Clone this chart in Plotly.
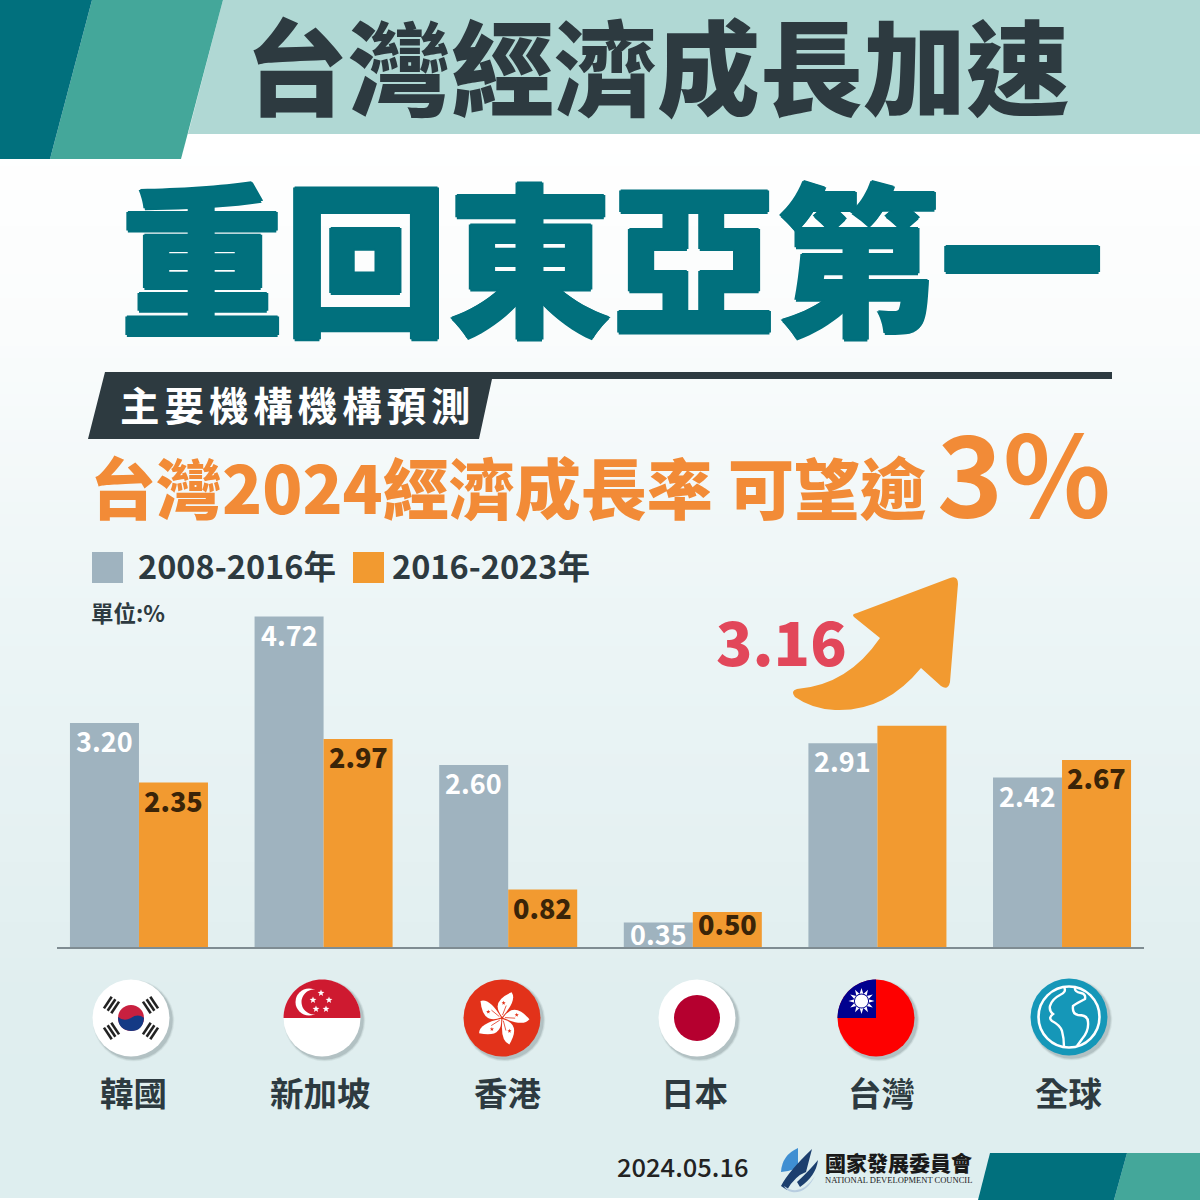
import math
import plotly.graph_objects as go

# ---------- data ----------
categories = ["韓國", "新加坡", "香港", "日本", "台灣", "全球"]
series_2008_2016 = [3.20, 4.72, 2.60, 0.35, 2.91, 2.42]
series_2016_2023 = [2.35, 2.97, 0.82, 0.50, 3.16, 2.67]
labels_2008_2016 = ["3.20", "4.72", "2.60", "0.35", "2.91", "2.42"]
labels_2016_2023 = ["2.35", "2.97", "0.82", "0.50", "", "2.67"]
legend_names = ["2008-2016年", "2016-2023年"]

# ---------- style ----------
FONT = "Noto Sans CJK TC"
GREY = "#9fb3bf"
ORANGE = "#f29a30"
DARK = "#2d3a40"
TEAL = "#01707d"
MID = "#44a79a"
LIGHT = "#b0d8d4"

def X(x): return x / 1200
def Y(y): return 1 - y / 1200

shapes = []
def poly(pts, fill, close=True, line=None, width=0, opacity=1.0, layer="above"):
    d = "M" + " L".join(f"{X(x):.5f},{Y(y):.5f}" for x, y in pts) + (" Z" if close else "")
    s = dict(type="path", path=d, xref="paper", yref="paper", opacity=opacity, layer=layer,
             fillcolor=fill if fill else "rgba(0,0,0,0)",
             line=dict(color=line if line else "rgba(0,0,0,0)", width=width))
    shapes.append(s)

def rect(x0, y0, x1, y1, fill, layer="above"):
    shapes.append(dict(type="rect", xref="paper", yref="paper", x0=X(x0), x1=X(x1), y0=Y(y0), y1=Y(y1),
                       fillcolor=fill, line=dict(width=0), layer=layer))

def circle(cx, cy, r, fill, opacity=1.0, line=None, width=0):
    shapes.append(dict(type="circle", xref="paper", yref="paper", x0=X(cx - r), x1=X(cx + r),
                       y0=Y(cy + r), y1=Y(cy - r), fillcolor=fill, opacity=opacity,
                       line=dict(color=line if line else "rgba(0,0,0,0)", width=width)))

def arc(cx, cy, r, a0, a1, n=40):
    return [(cx + r * math.cos(math.radians(a0 + (a1 - a0) * i / n)),
             cy + r * math.sin(math.radians(a0 + (a1 - a0) * i / n))) for i in range(n + 1)]

def path(cmds, fill, line=None, width=0):
    out = []
    for c, v in cmds:
        pairs = " ".join(f"{X(v[i]):.5f},{Y(v[i+1]):.5f}" for i in range(0, len(v), 2))
        out.append(c + pairs)
    shapes.append(dict(type="path", path=" ".join(out) + (" Z" if fill else ""), xref="paper", yref="paper",
                       fillcolor=fill if fill else "rgba(0,0,0,0)",
                       line=dict(color=line if line else "rgba(0,0,0,0)", width=width)))

def star(cx, cy, R, fill, pts=5, ratio=0.42, rot=-90):
    p = []
    for i in range(pts * 2):
        r = R if i % 2 == 0 else R * ratio
        a = math.radians(rot + i * 180 / pts)
        p.append((cx + r * math.cos(a), cy + r * math.sin(a)))
    poly(p, fill)

# background gradient
stops = [(130, (255, 255, 255)), (330, (250, 252, 252)), (620, (236, 245, 246)), (1000, (224, 238, 239)), (1200, (222, 238, 239))]
def grad(y):
    for (a, ca), (b, cb) in zip(stops, stops[1:]):
        if a <= y <= b:
            t = (y - a) / (b - a)
            return "rgb(%d,%d,%d)" % tuple(round(ca[i] + (cb[i] - ca[i]) * t) for i in range(3))
    return "rgb(255,255,255)"
for y0 in range(130, 1200, 12):
    rect(0, y0, 1200, y0 + 13, grad(y0 + 6), layer="below")

# header band
poly([(223, 0), (1200, 0), (1200, 134), (188, 134)], LIGHT, layer="below")
poly([(92, 0), (223, 0), (181, 159), (50, 159)], MID, layer="below")
poly([(0, 0), (92, 0), (50, 159), (0, 159)], TEAL, layer="below")
# footer band
poly([(1127, 1153), (1200, 1153), (1200, 1200), (1114, 1200)], MID, layer="below")
poly([(990, 1153), (1127, 1153), (1114, 1200), (978, 1200)], TEAL, layer="below")
# sub header
poly([(105, 372), (1112, 372), (1112, 379), (492, 379), (479, 439), (88, 439)], DARK, layer="below")
# legend swatches
rect(92, 552, 123, 583, GREY)
rect(353, 552, 384, 583, ORANGE)

# arrow
path([("M", [857, 613]), ("L", [950, 578]), ("Q", [958, 575, 958, 584]), ("L", [950, 682]),
      ("Q", [948, 691, 941, 686]), ("L", [921, 668]), ("Q", [885, 712, 835, 710]),
      ("Q", [812, 709, 795, 697]), ("Q", [790, 691, 797, 689]), ("Q", [848, 685, 880, 638]),
      ("L", [854, 617]), ("Q", [851, 614, 857, 613])], ORANGE)

# flags: soft shadows
flag_c = [(131, 1018), (322, 1018), (502, 1018), (697, 1018), (876, 1018), (1069, 1017)]
for cx, cy in flag_c:
    for d, a in [(7, .06), (5, .08), (3, .14)]:
        circle(cx + 2.5, cy + 2.5, 38 + d * 0.4, "#33434a", opacity=a)

# Korea
cx, cy = flag_c[0]
circle(cx, cy, 38.5, "#ffffff")
circle(cx, cy, 13, "#c8203f")
path([("M", [cx - 13, cy - 1]), ("Q", [cx - 7, cy + 4, cx, cy]), ("Q", [cx + 7, cy - 5, cx + 13, cy]),
      ("Q", [cx + 12, cy + 13, cx, cy + 13]), ("Q", [cx - 13, cy + 12, cx - 13, cy - 1])], "#143a85")
for sx, sy in [(-1, -1), (1, -1), (-1, 1), (1, 1)]:
    mx, my = cx + sx * 19.5, cy + sy * 13
    n = math.hypot(19.5, 13)
    rx, ry = sx * 19.5 / n, sy * 13 / n
    tx, ty = -ry, rx
    for k in (-4.4, 0, 4.4):
        bx, by = mx + rx * k, my + ry * k
        poly([(bx - tx * 7 - rx * 1.3, by - ty * 7 - ry * 1.3), (bx + tx * 7 - rx * 1.3, by + ty * 7 - ry * 1.3),
              (bx + tx * 7 + rx * 1.3, by + ty * 7 + ry * 1.3), (bx - tx * 7 + rx * 1.3, by - ty * 7 + ry * 1.3)], "#222222")

# Singapore
cx, cy = flag_c[1]
circle(cx, cy, 38.5, "#ffffff")
poly(arc(cx, cy, 38.5, 180, 360), "#ce1a30")
circle(cx - 13, cy - 16, 13.5, "#ffffff")
circle(cx - 8, cy - 16, 12.5, "#ce1a30")
for dx, dy in [(-1, -25), (-9, -18), (7, -18), (-6, -9), (4, -9)]:
    star(cx + dx, cy + dy, 3.6, "#ffffff")

# Hong Kong
cx, cy = flag_c[2]
circle(cx, cy, 38.5, "#e2321a")
for k in range(5):
    a = math.radians(-80 + 72 * k)
    ux, uy = math.cos(a), math.sin(a)
    vx, vy = -uy, ux
    tip = (cx + ux * 27 + vx * 5, cy + uy * 27 + vy * 5)
    base = (cx + ux * 1, cy + uy * 1)
    c1 = (cx + ux * 14 - vx * 15, cy + uy * 14 - vy * 15)
    c2 = (cx + ux * 20 + vx * 12, cy + uy * 20 + vy * 12)
    path([("M", list(base)), ("Q", list(c1) + list(tip)), ("Q", list(c2) + list(base))], "#ffffff")
    star(cx + ux * 15 - vx * 1, cy + uy * 15 - vy * 1, 2.2, "#e2321a")
    poly([(cx + ux * 3, cy + uy * 3), (cx + ux * 13 + vx * 2, cy + uy * 13 + vy * 2)], None, close=False, line="#e2321a", width=0.8)

# Japan
cx, cy = flag_c[3]
circle(cx, cy, 38.5, "#ffffff")
circle(cx, cy, 23, "#b5002f")

# Taiwan
cx, cy = flag_c[4]
circle(cx, cy, 38.5, "#fe0000")
poly([(cx, cy)] + arc(cx, cy, 38.5, 180, 270), "#00008f")
sx, sy = cx - 14.5, cy - 17
star(sx, sy, 13, "#ffffff", pts=12, ratio=0.55)
circle(sx, sy, 7.6, "#00008f")
circle(sx, sy, 6.6, "#ffffff")

# Globe
cx, cy = flag_c[5]
circle(cx, cy, 38.5, "#1597b8")
circle(cx, cy, 30.5, "rgba(0,0,0,0)", line="#ffffff", width=2.6)
W = "#ffffff"
path([("M", [cx - 5, cy - 30]), ("Q", [cx - 2, cy - 25, cx - 9, cy - 22]), ("Q", [cx - 17, cy - 18, cx - 19, cy - 11]),
      ("Q", [cx - 20, cy - 6, cx - 16, cy - 3]), ("Q", [cx - 21, cy + 1, cx - 17, cy + 4]), ("Q", [cx - 9, cy + 8, cx - 7, cy + 14]),
      ("Q", [cx - 5, cy + 21, cx - 5, cy + 30])], None, line=W, width=2.4)
path([("M", [cx + 6, cy - 30]), ("Q", [cx + 5, cy - 25, cx + 12, cy - 24]), ("Q", [cx + 17, cy - 23, cx + 16, cy - 18]),
      ("Q", [cx + 8, cy - 14, cx + 4, cy - 11]), ("Q", [cx + 3, cy - 3, cx + 9, cy - 2]), ("Q", [cx + 19, cy - 2, cx + 19, cy + 5]),
      ("Q", [cx + 20, cy + 14, cx + 13, cy + 22]), ("L", [cx + 8, cy + 29])], None, line=W, width=2.4)

# logo mark
path([("M", [781, 1172]), ("Q", [782, 1155, 798, 1148]), ("L", [798, 1168]), ("Q", [790, 1171, 781, 1172])], "#3f8fd2")
path([("M", [781, 1186]), ("Q", [788, 1172, 812, 1149]), ("L", [806, 1172]), ("Q", [795, 1176, 787, 1190])], "#1c3f6e")
path([("M", [797, 1182]), ("Q", [810, 1170, 818, 1160]), ("Q", [816, 1176, 800, 1187])], "#1c3f6e")
path([("M", [784, 1186]), ("Q", [800, 1198, 815, 1176]), ("Q", [806, 1194, 792, 1192]), ("Q", [786, 1191, 784, 1186])], "#b8cde0")

# ---------- annotations ----------
ann = []
def text(x, y, s, size, color, weight=700, anchor="center", family=FONT, shadow=None):
    f = dict(family=family, size=size, color=color, weight=weight)
    if shadow:
        f["shadow"] = shadow
    ann.append(dict(x=X(x), y=Y(y), xref="paper", yref="paper", text=s, showarrow=False, xanchor=anchor,
                    yanchor="middle", font=f))

def fat(color, w):
    return ", ".join(f"{dx}px {dy}px 0 {color}" for dx, dy in [(w, 0), (-w, 0), (0, w), (0, -w)])

text(657, 72, "台灣經濟成長加速", 103, DARK, 900, family="Liberation Sans, " + FONT)
text(612, 252, "重回東亞第一", 164, TEAL, 900, shadow=fat(TEAL, 1.5))
text(295, 403, "\u200a\u200a".join("主要機構機構預測"), 39.5, "#ffffff", 700)
text(508, 485, "台灣2024經濟成長率 可望逾", 66, "#f28b37", 900)
text(1024, 468, "3%", 112, "#f28b37", 700)
text(136, 564, legend_names[0], 32.5, DARK, 700, "left")
text(390, 564, legend_names[1], 32.5, DARK, 700, "left")
text(89, 612, "單位:%", 22.5, DARK, 700, "left")
text(782, 639, "3.16", 60, "#e2475a", 900)
for name, lx in zip(categories, [133, 320, 508, 694, 881, 1068]):
    text(lx, 1091, name, 33.5, DARK, 700)
text(682, 1165, "2024.05.16", 25.5, "#222222", 500)
text(898, 1162, "國家發展委員會", 21, "#1a1a1a", 900)
text(898, 1180, "NATIONAL DEVELOPMENT COUNCIL", 8.5, "#1a1a1a", 400, family="Liberation Serif")

for cat, a, b, la, lb in zip(categories, series_2008_2016, series_2016_2023, labels_2008_2016, labels_2016_2023):
    ann.append(dict(x=cat, y=a, xref="x", yref="y", xshift=-34.5, yshift=11 if a < 0.5 else 4, yanchor="top",
                    showarrow=False, text=la, font=dict(family=FONT, size=27, color="#ffffff", weight=700)))
    if lb:
        ann.append(dict(x=cat, y=b, xref="x", yref="y", xshift=34.5, yshift=10 if b < 0.6 else 4, yanchor="top",
                        showarrow=False, text=lb, font=dict(family=FONT, size=27, color="#3a2408", weight=900)))

# ---------- figure ----------
fig = go.Figure()
fig.add_bar(x=categories, y=series_2008_2016, name=legend_names[0], marker=dict(color=GREY, line=dict(width=0)))
fig.add_bar(x=categories, y=series_2016_2023, name=legend_names[1], marker=dict(color=ORANGE, line=dict(width=0)))
fig.update_layout(
    width=1200, height=1200, margin=dict(l=0, r=0, t=0, b=0), autosize=False,
    paper_bgcolor="#ffffff", plot_bgcolor="rgba(0,0,0,0)", showlegend=False,
    barmode="group", bargap=0.2524, bargroupgap=0,
    shapes=shapes, annotations=ann,
    xaxis=dict(domain=[57 / 1200, 1144 / 1200], type="category", categoryorder="array", categoryarray=categories,
               range=[-0.444, 5.444], showgrid=False, zeroline=False, showticklabels=False, ticks="",
               showline=True, linecolor="#7f8c92", linewidth=2),
    yaxis=dict(domain=[1 - 947 / 1200, 1 - 600 / 1200], range=[0, 347 / 70], showgrid=False, zeroline=False,
               showticklabels=False, ticks="", showline=False),
    font=dict(family=FONT),
)
fig.write_html("out.html", post_script="document.body.style.margin='0';document.documentElement.style.overflow='hidden';",
               config={"displayModeBar": False})
